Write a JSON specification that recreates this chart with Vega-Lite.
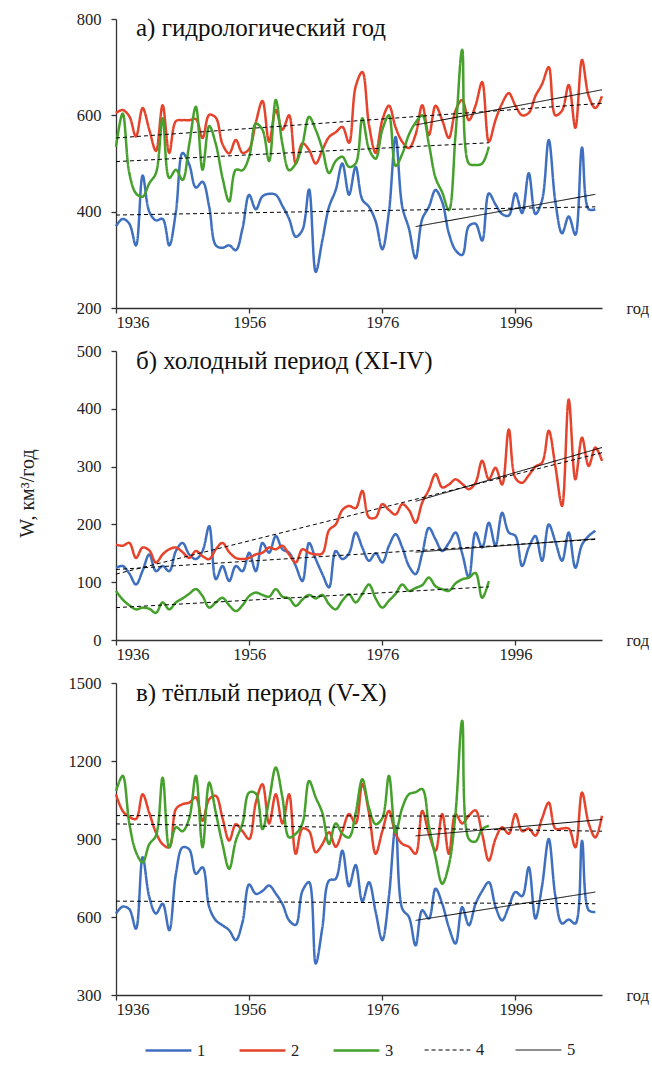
{
"$schema": "https://vega.github.io/schema/vega-lite/v6.json",
"autosize": {"type": "pad"},
"padding": {"left": 17, "top": 11, "right": 0, "bottom": 0},
"config": {
  "font": "Liberation Serif",
  "view": {"stroke": null},
  "axis": {"domainColor": "#333", "domainWidth": 1.3, "tickColor": "#333", "tickWidth": 1.3, "tickSize": 5, "labelFont": "Liberation Serif", "labelFontSize": 16.5, "labelColor": "#222", "grid": false, "titleFont": "Liberation Serif", "titleFontWeight": "normal", "titleColor": "#222", "titleFontSize": 16.5},
  "legend": {"orient": "none", "legendX": 28, "legendY": 1007, "direction": "horizontal", "columns": 5, "symbolType": "stroke", "symbolSize": 2100, "labelFontSize": 16.5, "labelFont": "Liberation Serif", "labelColor": "#222", "columnPadding": 28, "labelOffset": 4}
},
"datasets": {
"d": [
{"p":"a","s":"1","g":"1","t":1936,"w":370},{"p":"a","s":"1","g":"1","t":1937,"w":385},{"p":"a","s":"1","g":"1","t":1938,"w":375},{"p":"a","s":"1","g":"1","t":1939,"w":330},{"p":"a","s":"1","g":"1","t":1940,"w":475},{"p":"a","s":"1","g":"1","t":1941,"w":400},{"p":"a","s":"1","g":"1","t":1942,"w":382},{"p":"a","s":"1","g":"1","t":1943,"w":385},{"p":"a","s":"1","g":"1","t":1944,"w":330},{"p":"a","s":"1","g":"1","t":1945,"w":400},{"p":"a","s":"1","g":"1","t":1946,"w":522},{"p":"a","s":"1","g":"1","t":1947,"w":498},{"p":"a","s":"1","g":"1","t":1948,"w":450},{"p":"a","s":"1","g":"1","t":1949,"w":462},{"p":"a","s":"1","g":"1","t":1950,"w":410},{"p":"a","s":"1","g":"1","t":1951,"w":330},{"p":"a","s":"1","g":"1","t":1952,"w":325},{"p":"a","s":"1","g":"1","t":1953,"w":330},{"p":"a","s":"1","g":"1","t":1954,"w":320},{"p":"a","s":"1","g":"1","t":1955,"w":365},{"p":"a","s":"1","g":"1","t":1956,"w":435},{"p":"a","s":"1","g":"1","t":1957,"w":405},{"p":"a","s":"1","g":"1","t":1958,"w":432},{"p":"a","s":"1","g":"1","t":1959,"w":437},{"p":"a","s":"1","g":"1","t":1960,"w":435},{"p":"a","s":"1","g":"1","t":1961,"w":412},{"p":"a","s":"1","g":"1","t":1962,"w":385},{"p":"a","s":"1","g":"1","t":1963,"w":348},{"p":"a","s":"1","g":"1","t":1964,"w":362},{"p":"a","s":"1","g":"1","t":1965,"w":446},{"p":"a","s":"1","g":"1","t":1966,"w":275},{"p":"a","s":"1","g":"1","t":1967,"w":341},{"p":"a","s":"1","g":"1","t":1968,"w":410},{"p":"a","s":"1","g":"1","t":1969,"w":445},{"p":"a","s":"1","g":"1","t":1970,"w":500},{"p":"a","s":"1","g":"1","t":1971,"w":435},{"p":"a","s":"1","g":"1","t":1972,"w":493},{"p":"a","s":"1","g":"1","t":1973,"w":425},{"p":"a","s":"1","g":"1","t":1974,"w":410},{"p":"a","s":"1","g":"1","t":1975,"w":380},{"p":"a","s":"1","g":"1","t":1976,"w":322},{"p":"a","s":"1","g":"1","t":1977,"w":400},{"p":"a","s":"1","g":"1","t":1978,"w":555},{"p":"a","s":"1","g":"1","t":1979,"w":410},{"p":"a","s":"1","g":"1","t":1980,"w":365},{"p":"a","s":"1","g":"1","t":1981,"w":303},{"p":"a","s":"1","g":"1","t":1982,"w":385},{"p":"a","s":"1","g":"1","t":1983,"w":410},{"p":"a","s":"1","g":"1","t":1984,"w":445},{"p":"a","s":"1","g":"1","t":1985,"w":420},{"p":"a","s":"1","g":"1","t":1986,"w":355},{"p":"a","s":"1","g":"1","t":1987,"w":320},{"p":"a","s":"1","g":"1","t":1988,"w":310},{"p":"a","s":"1","g":"1","t":1989,"w":370},{"p":"a","s":"1","g":"1","t":1990,"w":375},{"p":"a","s":"1","g":"1","t":1991,"w":340},{"p":"a","s":"1","g":"1","t":1992,"w":438},{"p":"a","s":"1","g":"1","t":1993,"w":415},{"p":"a","s":"1","g":"1","t":1994,"w":395},{"p":"a","s":"1","g":"1","t":1995,"w":392},{"p":"a","s":"1","g":"1","t":1996,"w":438},{"p":"a","s":"1","g":"1","t":1997,"w":397},{"p":"a","s":"1","g":"1","t":1998,"w":480},{"p":"a","s":"1","g":"1","t":1999,"w":395},{"p":"a","s":"1","g":"1","t":2000,"w":424},{"p":"a","s":"1","g":"1","t":2001,"w":549},{"p":"a","s":"1","g":"1","t":2002,"w":420},{"p":"a","s":"1","g":"1","t":2003,"w":355},{"p":"a","s":"1","g":"1","t":2004,"w":390},{"p":"a","s":"1","g":"1","t":2005,"w":352},{"p":"a","s":"1","g":"1","t":2006,"w":533},{"p":"a","s":"1","g":"1","t":2007,"w":405},{"p":"a","s":"1","g":"1","t":2008,"w":405},
{"p":"a","s":"2","g":"2","t":1936,"w":605},{"p":"a","s":"2","g":"2","t":1937,"w":611},{"p":"a","s":"2","g":"2","t":1938,"w":598},{"p":"a","s":"2","g":"2","t":1939,"w":556},{"p":"a","s":"2","g":"2","t":1940,"w":615},{"p":"a","s":"2","g":"2","t":1941,"w":570},{"p":"a","s":"2","g":"2","t":1942,"w":526},{"p":"a","s":"2","g":"2","t":1943,"w":621},{"p":"a","s":"2","g":"2","t":1944,"w":522},{"p":"a","s":"2","g":"2","t":1945,"w":588},{"p":"a","s":"2","g":"2","t":1946,"w":590},{"p":"a","s":"2","g":"2","t":1947,"w":590},{"p":"a","s":"2","g":"2","t":1948,"w":592},{"p":"a","s":"2","g":"2","t":1949,"w":553},{"p":"a","s":"2","g":"2","t":1950,"w":601},{"p":"a","s":"2","g":"2","t":1951,"w":595},{"p":"a","s":"2","g":"2","t":1952,"w":540},{"p":"a","s":"2","g":"2","t":1953,"w":521},{"p":"a","s":"2","g":"2","t":1954,"w":549},{"p":"a","s":"2","g":"2","t":1955,"w":522},{"p":"a","s":"2","g":"2","t":1956,"w":530},{"p":"a","s":"2","g":"2","t":1957,"w":585},{"p":"a","s":"2","g":"2","t":1958,"w":630},{"p":"a","s":"2","g":"2","t":1959,"w":545},{"p":"a","s":"2","g":"2","t":1960,"w":611},{"p":"a","s":"2","g":"2","t":1961,"w":570},{"p":"a","s":"2","g":"2","t":1962,"w":600},{"p":"a","s":"2","g":"2","t":1963,"w":500},{"p":"a","s":"2","g":"2","t":1964,"w":542},{"p":"a","s":"2","g":"2","t":1965,"w":528},{"p":"a","s":"2","g":"2","t":1966,"w":500},{"p":"a","s":"2","g":"2","t":1967,"w":528},{"p":"a","s":"2","g":"2","t":1968,"w":555},{"p":"a","s":"2","g":"2","t":1969,"w":565},{"p":"a","s":"2","g":"2","t":1970,"w":576},{"p":"a","s":"2","g":"2","t":1971,"w":543},{"p":"a","s":"2","g":"2","t":1972,"w":660},{"p":"a","s":"2","g":"2","t":1973,"w":690},{"p":"a","s":"2","g":"2","t":1974,"w":580},{"p":"a","s":"2","g":"2","t":1975,"w":522},{"p":"a","s":"2","g":"2","t":1976,"w":590},{"p":"a","s":"2","g":"2","t":1977,"w":620},{"p":"a","s":"2","g":"2","t":1978,"w":575},{"p":"a","s":"2","g":"2","t":1979,"w":545},{"p":"a","s":"2","g":"2","t":1980,"w":532},{"p":"a","s":"2","g":"2","t":1981,"w":560},{"p":"a","s":"2","g":"2","t":1982,"w":621},{"p":"a","s":"2","g":"2","t":1983,"w":559},{"p":"a","s":"2","g":"2","t":1984,"w":620},{"p":"a","s":"2","g":"2","t":1985,"w":590},{"p":"a","s":"2","g":"2","t":1986,"w":553},{"p":"a","s":"2","g":"2","t":1987,"w":610},{"p":"a","s":"2","g":"2","t":1988,"w":632},{"p":"a","s":"2","g":"2","t":1989,"w":590},{"p":"a","s":"2","g":"2","t":1990,"w":620},{"p":"a","s":"2","g":"2","t":1991,"w":669},{"p":"a","s":"2","g":"2","t":1992,"w":545},{"p":"a","s":"2","g":"2","t":1993,"w":590},{"p":"a","s":"2","g":"2","t":1994,"w":625},{"p":"a","s":"2","g":"2","t":1995,"w":646},{"p":"a","s":"2","g":"2","t":1996,"w":620},{"p":"a","s":"2","g":"2","t":1997,"w":600},{"p":"a","s":"2","g":"2","t":1998,"w":605},{"p":"a","s":"2","g":"2","t":1999,"w":640},{"p":"a","s":"2","g":"2","t":2000,"w":665},{"p":"a","s":"2","g":"2","t":2001,"w":700},{"p":"a","s":"2","g":"2","t":2002,"w":600},{"p":"a","s":"2","g":"2","t":2003,"w":610},{"p":"a","s":"2","g":"2","t":2004,"w":663},{"p":"a","s":"2","g":"2","t":2005,"w":574},{"p":"a","s":"2","g":"2","t":2006,"w":715},{"p":"a","s":"2","g":"2","t":2007,"w":640},{"p":"a","s":"2","g":"2","t":2008,"w":615},{"p":"a","s":"2","g":"2","t":2009,"w":640},
{"p":"a","s":"3","g":"3","t":1936,"w":535},{"p":"a","s":"3","g":"3","t":1937,"w":604},{"p":"a","s":"3","g":"3","t":1938,"w":480},{"p":"a","s":"3","g":"3","t":1939,"w":438},{"p":"a","s":"3","g":"3","t":1940,"w":431},{"p":"a","s":"3","g":"3","t":1941,"w":459},{"p":"a","s":"3","g":"3","t":1942,"w":480},{"p":"a","s":"3","g":"3","t":1943,"w":594},{"p":"a","s":"3","g":"3","t":1944,"w":470},{"p":"a","s":"3","g":"3","t":1945,"w":487},{"p":"a","s":"3","g":"3","t":1946,"w":466},{"p":"a","s":"3","g":"3","t":1947,"w":540},{"p":"a","s":"3","g":"3","t":1948,"w":618},{"p":"a","s":"3","g":"3","t":1949,"w":487},{"p":"a","s":"3","g":"3","t":1950,"w":578},{"p":"a","s":"3","g":"3","t":1951,"w":540},{"p":"a","s":"3","g":"3","t":1952,"w":470},{"p":"a","s":"3","g":"3","t":1953,"w":421},{"p":"a","s":"3","g":"3","t":1954,"w":487},{"p":"a","s":"3","g":"3","t":1955,"w":486},{"p":"a","s":"3","g":"3","t":1956,"w":514},{"p":"a","s":"3","g":"3","t":1957,"w":583},{"p":"a","s":"3","g":"3","t":1958,"w":570},{"p":"a","s":"3","g":"3","t":1959,"w":505},{"p":"a","s":"3","g":"3","t":1960,"w":632},{"p":"a","s":"3","g":"3","t":1961,"w":540},{"p":"a","s":"3","g":"3","t":1962,"w":486},{"p":"a","s":"3","g":"3","t":1963,"w":500},{"p":"a","s":"3","g":"3","t":1964,"w":540},{"p":"a","s":"3","g":"3","t":1965,"w":597},{"p":"a","s":"3","g":"3","t":1966,"w":570},{"p":"a","s":"3","g":"3","t":1967,"w":530},{"p":"a","s":"3","g":"3","t":1968,"w":480},{"p":"a","s":"3","g":"3","t":1969,"w":505},{"p":"a","s":"3","g":"3","t":1970,"w":514},{"p":"a","s":"3","g":"3","t":1971,"w":493},{"p":"a","s":"3","g":"3","t":1972,"w":500},{"p":"a","s":"3","g":"3","t":1973,"w":594},{"p":"a","s":"3","g":"3","t":1974,"w":530},{"p":"a","s":"3","g":"3","t":1975,"w":510},{"p":"a","s":"3","g":"3","t":1976,"w":570},{"p":"a","s":"3","g":"3","t":1977,"w":600},{"p":"a","s":"3","g":"3","t":1978,"w":495},{"p":"a","s":"3","g":"3","t":1979,"w":520},{"p":"a","s":"3","g":"3","t":1980,"w":560},{"p":"a","s":"3","g":"3","t":1981,"w":585},{"p":"a","s":"3","g":"3","t":1982,"w":600},{"p":"a","s":"3","g":"3","t":1983,"w":540},{"p":"a","s":"3","g":"3","t":1984,"w":470},{"p":"a","s":"3","g":"3","t":1985,"w":440},{"p":"a","s":"3","g":"3","t":1986,"w":403},{"p":"a","s":"3","g":"3","t":1987,"w":560},{"p":"a","s":"3","g":"3","t":1988,"w":736},{"p":"a","s":"3","g":"3","t":1989,"w":500},{"p":"a","s":"3","g":"3","t":1990,"w":497},{"p":"a","s":"3","g":"3","t":1991,"w":500},{"p":"a","s":"3","g":"3","t":1992,"w":535},
{"p":"a","s":"4","g":"4-1","t":1936,"w":393},{"p":"a","s":"4","g":"4-1","t":2008,"w":410},
{"p":"a","s":"4","g":"4-2","t":1936,"w":553},{"p":"a","s":"4","g":"4-2","t":2009,"w":625},
{"p":"a","s":"4","g":"4-3","t":1936,"w":504},{"p":"a","s":"4","g":"4-3","t":1992,"w":543},
{"p":"a","s":"5","g":"5-1","t":1981,"w":369},{"p":"a","s":"5","g":"5-1","t":2008,"w":436},
{"p":"a","s":"5","g":"5-2","t":1981,"w":580},{"p":"a","s":"5","g":"5-2","t":2009,"w":653},
{"p":"b","s":"1","g":"1","t":1936,"w":125},{"p":"b","s":"1","g":"1","t":1937,"w":128},{"p":"b","s":"1","g":"1","t":1938,"w":115},{"p":"b","s":"1","g":"1","t":1939,"w":96},{"p":"b","s":"1","g":"1","t":1940,"w":120},{"p":"b","s":"1","g":"1","t":1941,"w":148},{"p":"b","s":"1","g":"1","t":1942,"w":119},{"p":"b","s":"1","g":"1","t":1943,"w":128},{"p":"b","s":"1","g":"1","t":1944,"w":119},{"p":"b","s":"1","g":"1","t":1945,"w":154},{"p":"b","s":"1","g":"1","t":1946,"w":168},{"p":"b","s":"1","g":"1","t":1947,"w":148},{"p":"b","s":"1","g":"1","t":1948,"w":140},{"p":"b","s":"1","g":"1","t":1949,"w":154},{"p":"b","s":"1","g":"1","t":1950,"w":197},{"p":"b","s":"1","g":"1","t":1951,"w":105},{"p":"b","s":"1","g":"1","t":1952,"w":128},{"p":"b","s":"1","g":"1","t":1953,"w":102},{"p":"b","s":"1","g":"1","t":1954,"w":128},{"p":"b","s":"1","g":"1","t":1955,"w":119},{"p":"b","s":"1","g":"1","t":1956,"w":151},{"p":"b","s":"1","g":"1","t":1957,"w":119},{"p":"b","s":"1","g":"1","t":1958,"w":168},{"p":"b","s":"1","g":"1","t":1959,"w":151},{"p":"b","s":"1","g":"1","t":1960,"w":180},{"p":"b","s":"1","g":"1","t":1961,"w":157},{"p":"b","s":"1","g":"1","t":1962,"w":151},{"p":"b","s":"1","g":"1","t":1963,"w":128},{"p":"b","s":"1","g":"1","t":1964,"w":102},{"p":"b","s":"1","g":"1","t":1965,"w":168},{"p":"b","s":"1","g":"1","t":1966,"w":140},{"p":"b","s":"1","g":"1","t":1967,"w":114},{"p":"b","s":"1","g":"1","t":1968,"w":91},{"p":"b","s":"1","g":"1","t":1969,"w":154},{"p":"b","s":"1","g":"1","t":1970,"w":140},{"p":"b","s":"1","g":"1","t":1971,"w":150},{"p":"b","s":"1","g":"1","t":1972,"w":186},{"p":"b","s":"1","g":"1","t":1973,"w":160},{"p":"b","s":"1","g":"1","t":1974,"w":137},{"p":"b","s":"1","g":"1","t":1975,"w":150},{"p":"b","s":"1","g":"1","t":1976,"w":134},{"p":"b","s":"1","g":"1","t":1977,"w":163},{"p":"b","s":"1","g":"1","t":1978,"w":183},{"p":"b","s":"1","g":"1","t":1979,"w":160},{"p":"b","s":"1","g":"1","t":1980,"w":128},{"p":"b","s":"1","g":"1","t":1981,"w":114},{"p":"b","s":"1","g":"1","t":1982,"w":150},{"p":"b","s":"1","g":"1","t":1983,"w":194},{"p":"b","s":"1","g":"1","t":1984,"w":174},{"p":"b","s":"1","g":"1","t":1985,"w":154},{"p":"b","s":"1","g":"1","t":1986,"w":168},{"p":"b","s":"1","g":"1","t":1987,"w":186},{"p":"b","s":"1","g":"1","t":1988,"w":150},{"p":"b","s":"1","g":"1","t":1989,"w":108},{"p":"b","s":"1","g":"1","t":1990,"w":186},{"p":"b","s":"1","g":"1","t":1991,"w":160},{"p":"b","s":"1","g":"1","t":1992,"w":203},{"p":"b","s":"1","g":"1","t":1993,"w":163},{"p":"b","s":"1","g":"1","t":1994,"w":220},{"p":"b","s":"1","g":"1","t":1995,"w":186},{"p":"b","s":"1","g":"1","t":1996,"w":180},{"p":"b","s":"1","g":"1","t":1997,"w":128},{"p":"b","s":"1","g":"1","t":1998,"w":160},{"p":"b","s":"1","g":"1","t":1999,"w":180},{"p":"b","s":"1","g":"1","t":2000,"w":137},{"p":"b","s":"1","g":"1","t":2001,"w":200},{"p":"b","s":"1","g":"1","t":2002,"w":170},{"p":"b","s":"1","g":"1","t":2003,"w":137},{"p":"b","s":"1","g":"1","t":2004,"w":186},{"p":"b","s":"1","g":"1","t":2005,"w":125},{"p":"b","s":"1","g":"1","t":2006,"w":165},{"p":"b","s":"1","g":"1","t":2007,"w":180},{"p":"b","s":"1","g":"1","t":2008,"w":189},
{"p":"b","s":"2","g":"2","t":1936,"w":165},{"p":"b","s":"2","g":"2","t":1937,"w":163},{"p":"b","s":"2","g":"2","t":1938,"w":168},{"p":"b","s":"2","g":"2","t":1939,"w":142},{"p":"b","s":"2","g":"2","t":1940,"w":160},{"p":"b","s":"2","g":"2","t":1941,"w":155},{"p":"b","s":"2","g":"2","t":1942,"w":134},{"p":"b","s":"2","g":"2","t":1943,"w":148},{"p":"b","s":"2","g":"2","t":1944,"w":157},{"p":"b","s":"2","g":"2","t":1945,"w":160},{"p":"b","s":"2","g":"2","t":1946,"w":152},{"p":"b","s":"2","g":"2","t":1947,"w":142},{"p":"b","s":"2","g":"2","t":1948,"w":154},{"p":"b","s":"2","g":"2","t":1949,"w":145},{"p":"b","s":"2","g":"2","t":1950,"w":140},{"p":"b","s":"2","g":"2","t":1951,"w":157},{"p":"b","s":"2","g":"2","t":1952,"w":168},{"p":"b","s":"2","g":"2","t":1953,"w":152},{"p":"b","s":"2","g":"2","t":1954,"w":142},{"p":"b","s":"2","g":"2","t":1955,"w":140},{"p":"b","s":"2","g":"2","t":1956,"w":142},{"p":"b","s":"2","g":"2","t":1957,"w":148},{"p":"b","s":"2","g":"2","t":1958,"w":151},{"p":"b","s":"2","g":"2","t":1959,"w":160},{"p":"b","s":"2","g":"2","t":1960,"w":157},{"p":"b","s":"2","g":"2","t":1961,"w":163},{"p":"b","s":"2","g":"2","t":1962,"w":148},{"p":"b","s":"2","g":"2","t":1963,"w":134},{"p":"b","s":"2","g":"2","t":1964,"w":157},{"p":"b","s":"2","g":"2","t":1965,"w":151},{"p":"b","s":"2","g":"2","t":1966,"w":148},{"p":"b","s":"2","g":"2","t":1967,"w":150},{"p":"b","s":"2","g":"2","t":1968,"w":190},{"p":"b","s":"2","g":"2","t":1969,"w":200},{"p":"b","s":"2","g":"2","t":1970,"w":225},{"p":"b","s":"2","g":"2","t":1971,"w":232},{"p":"b","s":"2","g":"2","t":1972,"w":228},{"p":"b","s":"2","g":"2","t":1973,"w":258},{"p":"b","s":"2","g":"2","t":1974,"w":212},{"p":"b","s":"2","g":"2","t":1975,"w":212},{"p":"b","s":"2","g":"2","t":1976,"w":235},{"p":"b","s":"2","g":"2","t":1977,"w":225},{"p":"b","s":"2","g":"2","t":1978,"w":217},{"p":"b","s":"2","g":"2","t":1979,"w":235},{"p":"b","s":"2","g":"2","t":1980,"w":225},{"p":"b","s":"2","g":"2","t":1981,"w":203},{"p":"b","s":"2","g":"2","t":1982,"w":238},{"p":"b","s":"2","g":"2","t":1983,"w":260},{"p":"b","s":"2","g":"2","t":1984,"w":287},{"p":"b","s":"2","g":"2","t":1985,"w":264},{"p":"b","s":"2","g":"2","t":1986,"w":269},{"p":"b","s":"2","g":"2","t":1987,"w":278},{"p":"b","s":"2","g":"2","t":1988,"w":270},{"p":"b","s":"2","g":"2","t":1989,"w":261},{"p":"b","s":"2","g":"2","t":1990,"w":272},{"p":"b","s":"2","g":"2","t":1991,"w":310},{"p":"b","s":"2","g":"2","t":1992,"w":278},{"p":"b","s":"2","g":"2","t":1993,"w":298},{"p":"b","s":"2","g":"2","t":1994,"w":269},{"p":"b","s":"2","g":"2","t":1995,"w":364},{"p":"b","s":"2","g":"2","t":1996,"w":280},{"p":"b","s":"2","g":"2","t":1997,"w":272},{"p":"b","s":"2","g":"2","t":1998,"w":285},{"p":"b","s":"2","g":"2","t":1999,"w":300},{"p":"b","s":"2","g":"2","t":2000,"w":307},{"p":"b","s":"2","g":"2","t":2001,"w":362},{"p":"b","s":"2","g":"2","t":2002,"w":300},{"p":"b","s":"2","g":"2","t":2003,"w":232},{"p":"b","s":"2","g":"2","t":2004,"w":416},{"p":"b","s":"2","g":"2","t":2005,"w":278},{"p":"b","s":"2","g":"2","t":2006,"w":350},{"p":"b","s":"2","g":"2","t":2007,"w":301},{"p":"b","s":"2","g":"2","t":2008,"w":333},{"p":"b","s":"2","g":"2","t":2009,"w":310},
{"p":"b","s":"3","g":"3","t":1936,"w":85},{"p":"b","s":"3","g":"3","t":1937,"w":70},{"p":"b","s":"3","g":"3","t":1938,"w":60},{"p":"b","s":"3","g":"3","t":1939,"w":53},{"p":"b","s":"3","g":"3","t":1940,"w":56},{"p":"b","s":"3","g":"3","t":1941,"w":54},{"p":"b","s":"3","g":"3","t":1942,"w":47},{"p":"b","s":"3","g":"3","t":1943,"w":65},{"p":"b","s":"3","g":"3","t":1944,"w":53},{"p":"b","s":"3","g":"3","t":1945,"w":65},{"p":"b","s":"3","g":"3","t":1946,"w":72},{"p":"b","s":"3","g":"3","t":1947,"w":80},{"p":"b","s":"3","g":"3","t":1948,"w":88},{"p":"b","s":"3","g":"3","t":1949,"w":76},{"p":"b","s":"3","g":"3","t":1950,"w":56},{"p":"b","s":"3","g":"3","t":1951,"w":65},{"p":"b","s":"3","g":"3","t":1952,"w":73},{"p":"b","s":"3","g":"3","t":1953,"w":60},{"p":"b","s":"3","g":"3","t":1954,"w":50},{"p":"b","s":"3","g":"3","t":1955,"w":60},{"p":"b","s":"3","g":"3","t":1956,"w":76},{"p":"b","s":"3","g":"3","t":1957,"w":82},{"p":"b","s":"3","g":"3","t":1958,"w":78},{"p":"b","s":"3","g":"3","t":1959,"w":75},{"p":"b","s":"3","g":"3","t":1960,"w":88},{"p":"b","s":"3","g":"3","t":1961,"w":75},{"p":"b","s":"3","g":"3","t":1962,"w":72},{"p":"b","s":"3","g":"3","t":1963,"w":59},{"p":"b","s":"3","g":"3","t":1964,"w":70},{"p":"b","s":"3","g":"3","t":1965,"w":78},{"p":"b","s":"3","g":"3","t":1966,"w":72},{"p":"b","s":"3","g":"3","t":1967,"w":78},{"p":"b","s":"3","g":"3","t":1968,"w":62},{"p":"b","s":"3","g":"3","t":1969,"w":53},{"p":"b","s":"3","g":"3","t":1970,"w":68},{"p":"b","s":"3","g":"3","t":1971,"w":79},{"p":"b","s":"3","g":"3","t":1972,"w":65},{"p":"b","s":"3","g":"3","t":1973,"w":80},{"p":"b","s":"3","g":"3","t":1974,"w":96},{"p":"b","s":"3","g":"3","t":1975,"w":72},{"p":"b","s":"3","g":"3","t":1976,"w":56},{"p":"b","s":"3","g":"3","t":1977,"w":68},{"p":"b","s":"3","g":"3","t":1978,"w":80},{"p":"b","s":"3","g":"3","t":1979,"w":96},{"p":"b","s":"3","g":"3","t":1980,"w":85},{"p":"b","s":"3","g":"3","t":1981,"w":90},{"p":"b","s":"3","g":"3","t":1982,"w":95},{"p":"b","s":"3","g":"3","t":1983,"w":108},{"p":"b","s":"3","g":"3","t":1984,"w":93},{"p":"b","s":"3","g":"3","t":1985,"w":88},{"p":"b","s":"3","g":"3","t":1986,"w":85},{"p":"b","s":"3","g":"3","t":1987,"w":98},{"p":"b","s":"3","g":"3","t":1988,"w":105},{"p":"b","s":"3","g":"3","t":1989,"w":108},{"p":"b","s":"3","g":"3","t":1990,"w":116},{"p":"b","s":"3","g":"3","t":1991,"w":73},{"p":"b","s":"3","g":"3","t":1992,"w":102},
{"p":"b","s":"4","g":"4-1","t":1936,"w":122},{"p":"b","s":"4","g":"4-1","t":2008,"w":174},
{"p":"b","s":"4","g":"4-2","t":1936,"w":114},{"p":"b","s":"4","g":"4-2","t":2009,"w":324},
{"p":"b","s":"4","g":"4-3","t":1936,"w":56},{"p":"b","s":"4","g":"4-3","t":1992,"w":92},
{"p":"b","s":"5","g":"5-1","t":1981,"w":152},{"p":"b","s":"5","g":"5-1","t":2008,"w":175},
{"p":"b","s":"5","g":"5-2","t":1981,"w":240},{"p":"b","s":"5","g":"5-2","t":2009,"w":333},
{"p":"c","s":"1","g":"1","t":1936,"w":613},{"p":"c","s":"1","g":"1","t":1937,"w":640},{"p":"c","s":"1","g":"1","t":1938,"w":630},{"p":"c","s":"1","g":"1","t":1939,"w":555},{"p":"c","s":"1","g":"1","t":1940,"w":830},{"p":"c","s":"1","g":"1","t":1941,"w":677},{"p":"c","s":"1","g":"1","t":1942,"w":613},{"p":"c","s":"1","g":"1","t":1943,"w":651},{"p":"c","s":"1","g":"1","t":1944,"w":549},{"p":"c","s":"1","g":"1","t":1945,"w":766},{"p":"c","s":"1","g":"1","t":1946,"w":868},{"p":"c","s":"1","g":"1","t":1947,"w":860},{"p":"c","s":"1","g":"1","t":1948,"w":766},{"p":"c","s":"1","g":"1","t":1949,"w":791},{"p":"c","s":"1","g":"1","t":1950,"w":638},{"p":"c","s":"1","g":"1","t":1951,"w":587},{"p":"c","s":"1","g":"1","t":1952,"w":568},{"p":"c","s":"1","g":"1","t":1953,"w":549},{"p":"c","s":"1","g":"1","t":1954,"w":511},{"p":"c","s":"1","g":"1","t":1955,"w":580},{"p":"c","s":"1","g":"1","t":1956,"w":725},{"p":"c","s":"1","g":"1","t":1957,"w":689},{"p":"c","s":"1","g":"1","t":1958,"w":700},{"p":"c","s":"1","g":"1","t":1959,"w":721},{"p":"c","s":"1","g":"1","t":1960,"w":690},{"p":"c","s":"1","g":"1","t":1961,"w":650},{"p":"c","s":"1","g":"1","t":1962,"w":587},{"p":"c","s":"1","g":"1","t":1963,"w":570},{"p":"c","s":"1","g":"1","t":1964,"w":700},{"p":"c","s":"1","g":"1","t":1965,"w":734},{"p":"c","s":"1","g":"1","t":1966,"w":421},{"p":"c","s":"1","g":"1","t":1967,"w":560},{"p":"c","s":"1","g":"1","t":1968,"w":740},{"p":"c","s":"1","g":"1","t":1969,"w":747},{"p":"c","s":"1","g":"1","t":1970,"w":855},{"p":"c","s":"1","g":"1","t":1971,"w":718},{"p":"c","s":"1","g":"1","t":1972,"w":800},{"p":"c","s":"1","g":"1","t":1973,"w":660},{"p":"c","s":"1","g":"1","t":1974,"w":734},{"p":"c","s":"1","g":"1","t":1975,"w":620},{"p":"c","s":"1","g":"1","t":1976,"w":511},{"p":"c","s":"1","g":"1","t":1977,"w":680},{"p":"c","s":"1","g":"1","t":1978,"w":950},{"p":"c","s":"1","g":"1","t":1979,"w":632},{"p":"c","s":"1","g":"1","t":1980,"w":600},{"p":"c","s":"1","g":"1","t":1981,"w":491},{"p":"c","s":"1","g":"1","t":1982,"w":626},{"p":"c","s":"1","g":"1","t":1983,"w":594},{"p":"c","s":"1","g":"1","t":1984,"w":709},{"p":"c","s":"1","g":"1","t":1985,"w":651},{"p":"c","s":"1","g":"1","t":1986,"w":560},{"p":"c","s":"1","g":"1","t":1987,"w":498},{"p":"c","s":"1","g":"1","t":1988,"w":638},{"p":"c","s":"1","g":"1","t":1989,"w":568},{"p":"c","s":"1","g":"1","t":1990,"w":650},{"p":"c","s":"1","g":"1","t":1991,"w":700},{"p":"c","s":"1","g":"1","t":1992,"w":734},{"p":"c","s":"1","g":"1","t":1993,"w":640},{"p":"c","s":"1","g":"1","t":1994,"w":587},{"p":"c","s":"1","g":"1","t":1995,"w":640},{"p":"c","s":"1","g":"1","t":1996,"w":696},{"p":"c","s":"1","g":"1","t":1997,"w":680},{"p":"c","s":"1","g":"1","t":1998,"w":791},{"p":"c","s":"1","g":"1","t":1999,"w":594},{"p":"c","s":"1","g":"1","t":2000,"w":720},{"p":"c","s":"1","g":"1","t":2001,"w":900},{"p":"c","s":"1","g":"1","t":2002,"w":680},{"p":"c","s":"1","g":"1","t":2003,"w":575},{"p":"c","s":"1","g":"1","t":2004,"w":590},{"p":"c","s":"1","g":"1","t":2005,"w":575},{"p":"c","s":"1","g":"1","t":2006,"w":893},{"p":"c","s":"1","g":"1","t":2007,"w":626},{"p":"c","s":"1","g":"1","t":2008,"w":619},
{"p":"c","s":"2","g":"2","t":1936,"w":1072},{"p":"c","s":"2","g":"2","t":1937,"w":1008},{"p":"c","s":"2","g":"2","t":1938,"w":985},{"p":"c","s":"2","g":"2","t":1939,"w":977},{"p":"c","s":"2","g":"2","t":1940,"w":1072},{"p":"c","s":"2","g":"2","t":1941,"w":1000},{"p":"c","s":"2","g":"2","t":1942,"w":925},{"p":"c","s":"2","g":"2","t":1943,"w":880},{"p":"c","s":"2","g":"2","t":1944,"w":868},{"p":"c","s":"2","g":"2","t":1945,"w":1015},{"p":"c","s":"2","g":"2","t":1946,"w":1034},{"p":"c","s":"2","g":"2","t":1947,"w":1040},{"p":"c","s":"2","g":"2","t":1948,"w":1060},{"p":"c","s":"2","g":"2","t":1949,"w":970},{"p":"c","s":"2","g":"2","t":1950,"w":1053},{"p":"c","s":"2","g":"2","t":1951,"w":1066},{"p":"c","s":"2","g":"2","t":1952,"w":980},{"p":"c","s":"2","g":"2","t":1953,"w":894},{"p":"c","s":"2","g":"2","t":1954,"w":957},{"p":"c","s":"2","g":"2","t":1955,"w":930},{"p":"c","s":"2","g":"2","t":1956,"w":900},{"p":"c","s":"2","g":"2","t":1957,"w":1040},{"p":"c","s":"2","g":"2","t":1958,"w":1111},{"p":"c","s":"2","g":"2","t":1959,"w":960},{"p":"c","s":"2","g":"2","t":1960,"w":1072},{"p":"c","s":"2","g":"2","t":1961,"w":960},{"p":"c","s":"2","g":"2","t":1962,"w":1072},{"p":"c","s":"2","g":"2","t":1963,"w":843},{"p":"c","s":"2","g":"2","t":1964,"w":940},{"p":"c","s":"2","g":"2","t":1965,"w":930},{"p":"c","s":"2","g":"2","t":1966,"w":849},{"p":"c","s":"2","g":"2","t":1967,"w":880},{"p":"c","s":"2","g":"2","t":1968,"w":926},{"p":"c","s":"2","g":"2","t":1969,"w":870},{"p":"c","s":"2","g":"2","t":1970,"w":930},{"p":"c","s":"2","g":"2","t":1971,"w":996},{"p":"c","s":"2","g":"2","t":1972,"w":960},{"p":"c","s":"2","g":"2","t":1973,"w":1111},{"p":"c","s":"2","g":"2","t":1974,"w":1000},{"p":"c","s":"2","g":"2","t":1975,"w":843},{"p":"c","s":"2","g":"2","t":1976,"w":930},{"p":"c","s":"2","g":"2","t":1977,"w":1008},{"p":"c","s":"2","g":"2","t":1978,"w":920},{"p":"c","s":"2","g":"2","t":1979,"w":881},{"p":"c","s":"2","g":"2","t":1980,"w":870},{"p":"c","s":"2","g":"2","t":1981,"w":843},{"p":"c","s":"2","g":"2","t":1982,"w":1008},{"p":"c","s":"2","g":"2","t":1983,"w":920},{"p":"c","s":"2","g":"2","t":1984,"w":855},{"p":"c","s":"2","g":"2","t":1985,"w":996},{"p":"c","s":"2","g":"2","t":1986,"w":843},{"p":"c","s":"2","g":"2","t":1987,"w":996},{"p":"c","s":"2","g":"2","t":1988,"w":960},{"p":"c","s":"2","g":"2","t":1989,"w":990},{"p":"c","s":"2","g":"2","t":1990,"w":1010},{"p":"c","s":"2","g":"2","t":1991,"w":920},{"p":"c","s":"2","g":"2","t":1992,"w":817},{"p":"c","s":"2","g":"2","t":1993,"w":900},{"p":"c","s":"2","g":"2","t":1994,"w":945},{"p":"c","s":"2","g":"2","t":1995,"w":920},{"p":"c","s":"2","g":"2","t":1996,"w":996},{"p":"c","s":"2","g":"2","t":1997,"w":930},{"p":"c","s":"2","g":"2","t":1998,"w":940},{"p":"c","s":"2","g":"2","t":1999,"w":913},{"p":"c","s":"2","g":"2","t":2000,"w":980},{"p":"c","s":"2","g":"2","t":2001,"w":1040},{"p":"c","s":"2","g":"2","t":2002,"w":940},{"p":"c","s":"2","g":"2","t":2003,"w":940},{"p":"c","s":"2","g":"2","t":2004,"w":940},{"p":"c","s":"2","g":"2","t":2005,"w":868},{"p":"c","s":"2","g":"2","t":2006,"w":1079},{"p":"c","s":"2","g":"2","t":2007,"w":960},{"p":"c","s":"2","g":"2","t":2008,"w":906},{"p":"c","s":"2","g":"2","t":2009,"w":989},
{"p":"c","s":"3","g":"3","t":1936,"w":1085},{"p":"c","s":"3","g":"3","t":1937,"w":1143},{"p":"c","s":"3","g":"3","t":1938,"w":960},{"p":"c","s":"3","g":"3","t":1939,"w":850},{"p":"c","s":"3","g":"3","t":1940,"w":810},{"p":"c","s":"3","g":"3","t":1941,"w":880},{"p":"c","s":"3","g":"3","t":1942,"w":913},{"p":"c","s":"3","g":"3","t":1943,"w":1136},{"p":"c","s":"3","g":"3","t":1944,"w":868},{"p":"c","s":"3","g":"3","t":1945,"w":945},{"p":"c","s":"3","g":"3","t":1946,"w":930},{"p":"c","s":"3","g":"3","t":1947,"w":980},{"p":"c","s":"3","g":"3","t":1948,"w":1143},{"p":"c","s":"3","g":"3","t":1949,"w":868},{"p":"c","s":"3","g":"3","t":1950,"w":1117},{"p":"c","s":"3","g":"3","t":1951,"w":1000},{"p":"c","s":"3","g":"3","t":1952,"w":880},{"p":"c","s":"3","g":"3","t":1953,"w":785},{"p":"c","s":"3","g":"3","t":1954,"w":894},{"p":"c","s":"3","g":"3","t":1955,"w":960},{"p":"c","s":"3","g":"3","t":1956,"w":1079},{"p":"c","s":"3","g":"3","t":1957,"w":1075},{"p":"c","s":"3","g":"3","t":1958,"w":938},{"p":"c","s":"3","g":"3","t":1959,"w":1050},{"p":"c","s":"3","g":"3","t":1960,"w":1175},{"p":"c","s":"3","g":"3","t":1961,"w":1060},{"p":"c","s":"3","g":"3","t":1962,"w":906},{"p":"c","s":"3","g":"3","t":1963,"w":920},{"p":"c","s":"3","g":"3","t":1964,"w":960},{"p":"c","s":"3","g":"3","t":1965,"w":1123},{"p":"c","s":"3","g":"3","t":1966,"w":1060},{"p":"c","s":"3","g":"3","t":1967,"w":1000},{"p":"c","s":"3","g":"3","t":1968,"w":881},{"p":"c","s":"3","g":"3","t":1969,"w":960},{"p":"c","s":"3","g":"3","t":1970,"w":920},{"p":"c","s":"3","g":"3","t":1971,"w":906},{"p":"c","s":"3","g":"3","t":1972,"w":1000},{"p":"c","s":"3","g":"3","t":1973,"w":1130},{"p":"c","s":"3","g":"3","t":1974,"w":1020},{"p":"c","s":"3","g":"3","t":1975,"w":957},{"p":"c","s":"3","g":"3","t":1976,"w":980},{"p":"c","s":"3","g":"3","t":1977,"w":1143},{"p":"c","s":"3","g":"3","t":1978,"w":925},{"p":"c","s":"3","g":"3","t":1979,"w":1020},{"p":"c","s":"3","g":"3","t":1980,"w":1072},{"p":"c","s":"3","g":"3","t":1981,"w":1080},{"p":"c","s":"3","g":"3","t":1982,"w":1092},{"p":"c","s":"3","g":"3","t":1983,"w":950},{"p":"c","s":"3","g":"3","t":1984,"w":830},{"p":"c","s":"3","g":"3","t":1985,"w":728},{"p":"c","s":"3","g":"3","t":1986,"w":800},{"p":"c","s":"3","g":"3","t":1987,"w":1000},{"p":"c","s":"3","g":"3","t":1988,"w":1355},{"p":"c","s":"3","g":"3","t":1989,"w":900},{"p":"c","s":"3","g":"3","t":1990,"w":890},{"p":"c","s":"3","g":"3","t":1991,"w":938},{"p":"c","s":"3","g":"3","t":1992,"w":951},
{"p":"c","s":"4","g":"4-1","t":1936,"w":661},{"p":"c","s":"4","g":"4-1","t":2008,"w":651},
{"p":"c","s":"4","g":"4-2","t":1936,"w":958},{"p":"c","s":"4","g":"4-2","t":2009,"w":930},
{"p":"c","s":"4","g":"4-3","t":1936,"w":990},{"p":"c","s":"4","g":"4-3","t":1992,"w":988},
{"p":"c","s":"5","g":"5-1","t":1981,"w":587},{"p":"c","s":"5","g":"5-1","t":2008,"w":696},
{"p":"c","s":"5","g":"5-2","t":1981,"w":912},{"p":"c","s":"5","g":"5-2","t":2009,"w":975}
],
"titles": [
{"p":"a","label":"а) гидрологический год"},
{"p":"b","label":"б) холодный период (XI-IV)"},
{"p":"c","label":"в) тёплый период (V-X)"}
]
},
"bounds": "flush",
"spacing": 43,
"resolve": {"scale": {"x": "independent", "y": "independent", "color": "shared", "strokeDash": "shared", "strokeWidth": "shared"}},
"vconcat": [
{
"width": 486, "height": 289,
"layer": [
{"data": {"name": "d"}, "transform": [{"filter": "datum.p == 'a'"}],
 "mark": {"type": "line", "interpolate": "catmull-rom"},
 "encoding": {
  "x": {"field": "t", "type": "quantitative", "scale": {"domain": [1936, 2009], "nice": false, "zero": false}, "axis": {"values": [1936, 1956, 1976, 1996], "format": "d", "labelFont": "Liberation Serif", "titleFont": "Liberation Serif", "title": "год", "titleX": 510, "titleY": 5, "titleAlign": "left", "titleBaseline": "alphabetic", "labelPadding": 1}},
  "y": {"field": "w", "type": "quantitative", "scale": {"domain": [200, 800], "nice": false, "zero": false}, "axis": {"values": [200, 400, 600, 800], "format": "d", "labelFont": "Liberation Serif", "title": null, "labelPadding": 10}},
  "detail": {"field": "g"},
  "color": {"field": "s", "type": "nominal", "scale": {"domain": ["1","2","3","4","5"], "range": ["#3F6FBF", "#E5432B", "#45A02C", "#000000", "#000000"]}, "legend": {"title": null}},
  "strokeDash": {"field": "s", "type": "nominal", "scale": {"type": "ordinal", "domain": ["1","2","3","4","5"], "range": [[1,0],[1,0],[1,0],[4,3],[1,0]]}, "legend": {"title": null}},
  "strokeWidth": {"field": "s", "type": "nominal", "scale": {"type": "ordinal", "domain": ["1","2","3","4","5"], "range": [2.5, 2.5, 2.5, 1, 1]}, "legend": {"title": null}}
 }},
{"data": {"name": "titles"}, "transform": [{"filter": "datum.p == 'a'"}],
 "mark": {"type": "text", "align": "left", "baseline": "alphabetic", "font": "Liberation Serif", "fontSize": 25, "color": "#111"},
 "encoding": {"x": {"datum": 1939}, "y": {"datum": 765}, "text": {"field": "label"}}}
]
},
{
"width": 486, "height": 289,
"layer": [
{"data": {"name": "d"}, "transform": [{"filter": "datum.p == 'b'"}],
 "mark": {"type": "line", "interpolate": "catmull-rom"},
 "encoding": {
  "x": {"field": "t", "type": "quantitative", "scale": {"domain": [1936, 2009], "nice": false, "zero": false}, "axis": {"values": [1936, 1956, 1976, 1996], "format": "d", "labelFont": "Liberation Serif", "titleFont": "Liberation Serif", "title": "год", "titleX": 510, "titleY": 5, "titleAlign": "left", "titleBaseline": "alphabetic", "labelPadding": 1}},
  "y": {"field": "w", "type": "quantitative", "scale": {"domain": [0, 500], "nice": false}, "axis": {"values": [0, 100, 200, 300, 400, 500], "format": "d", "labelFont": "Liberation Serif", "titleFont": "Liberation Serif", "title": "W, км³/год", "titleX": -89, "titleY": 142, "titleAngle": 270, "titleAlign": "center", "titleBaseline": "middle", "titleFontSize": 20, "labelPadding": 10}},
  "detail": {"field": "g"},
  "color": {"field": "s", "type": "nominal", "scale": {"domain": ["1","2","3","4","5"], "range": ["#3F6FBF", "#E5432B", "#45A02C", "#000000", "#000000"]}, "legend": {"title": null}},
  "strokeDash": {"field": "s", "type": "nominal", "scale": {"type": "ordinal", "domain": ["1","2","3","4","5"], "range": [[1,0],[1,0],[1,0],[4,3],[1,0]]}, "legend": {"title": null}},
  "strokeWidth": {"field": "s", "type": "nominal", "scale": {"type": "ordinal", "domain": ["1","2","3","4","5"], "range": [2.5, 2.5, 2.5, 1, 1]}, "legend": {"title": null}}
 }},
{"data": {"name": "titles"}, "transform": [{"filter": "datum.p == 'b'"}],
 "mark": {"type": "text", "align": "left", "baseline": "alphabetic", "font": "Liberation Serif", "fontSize": 25, "color": "#111"},
 "encoding": {"x": {"datum": 1939}, "y": {"datum": 469}, "text": {"field": "label"}}}
]
},
{
"width": 486, "height": 312,
"layer": [
{"data": {"name": "d"}, "transform": [{"filter": "datum.p == 'c'"}],
 "mark": {"type": "line", "interpolate": "catmull-rom"},
 "encoding": {
  "x": {"field": "t", "type": "quantitative", "scale": {"domain": [1936, 2009], "nice": false, "zero": false}, "axis": {"values": [1936, 1956, 1976, 1996], "format": "d", "labelFont": "Liberation Serif", "titleFont": "Liberation Serif", "title": "год", "titleX": 510, "titleY": 5, "titleAlign": "left", "titleBaseline": "alphabetic", "labelPadding": 1}},
  "y": {"field": "w", "type": "quantitative", "scale": {"domain": [300, 1500], "nice": false, "zero": false}, "axis": {"values": [300, 600, 900, 1200, 1500], "format": "d", "labelFont": "Liberation Serif", "title": null, "labelPadding": 10}},
  "detail": {"field": "g"},
  "color": {"field": "s", "type": "nominal", "scale": {"domain": ["1","2","3","4","5"], "range": ["#3F6FBF", "#E5432B", "#45A02C", "#000000", "#000000"]}, "legend": {"title": null}},
  "strokeDash": {"field": "s", "type": "nominal", "scale": {"type": "ordinal", "domain": ["1","2","3","4","5"], "range": [[1,0],[1,0],[1,0],[4,3],[1,0]]}, "legend": {"title": null}},
  "strokeWidth": {"field": "s", "type": "nominal", "scale": {"type": "ordinal", "domain": ["1","2","3","4","5"], "range": [2.5, 2.5, 2.5, 1, 1]}, "legend": {"title": null}}
 }},
{"data": {"name": "titles"}, "transform": [{"filter": "datum.p == 'c'"}],
 "mark": {"type": "text", "align": "left", "baseline": "alphabetic", "font": "Liberation Serif", "fontSize": 25, "color": "#111"},
 "encoding": {"x": {"datum": 1939}, "y": {"datum": 1431}, "text": {"field": "label"}}}
]
}
]
}
